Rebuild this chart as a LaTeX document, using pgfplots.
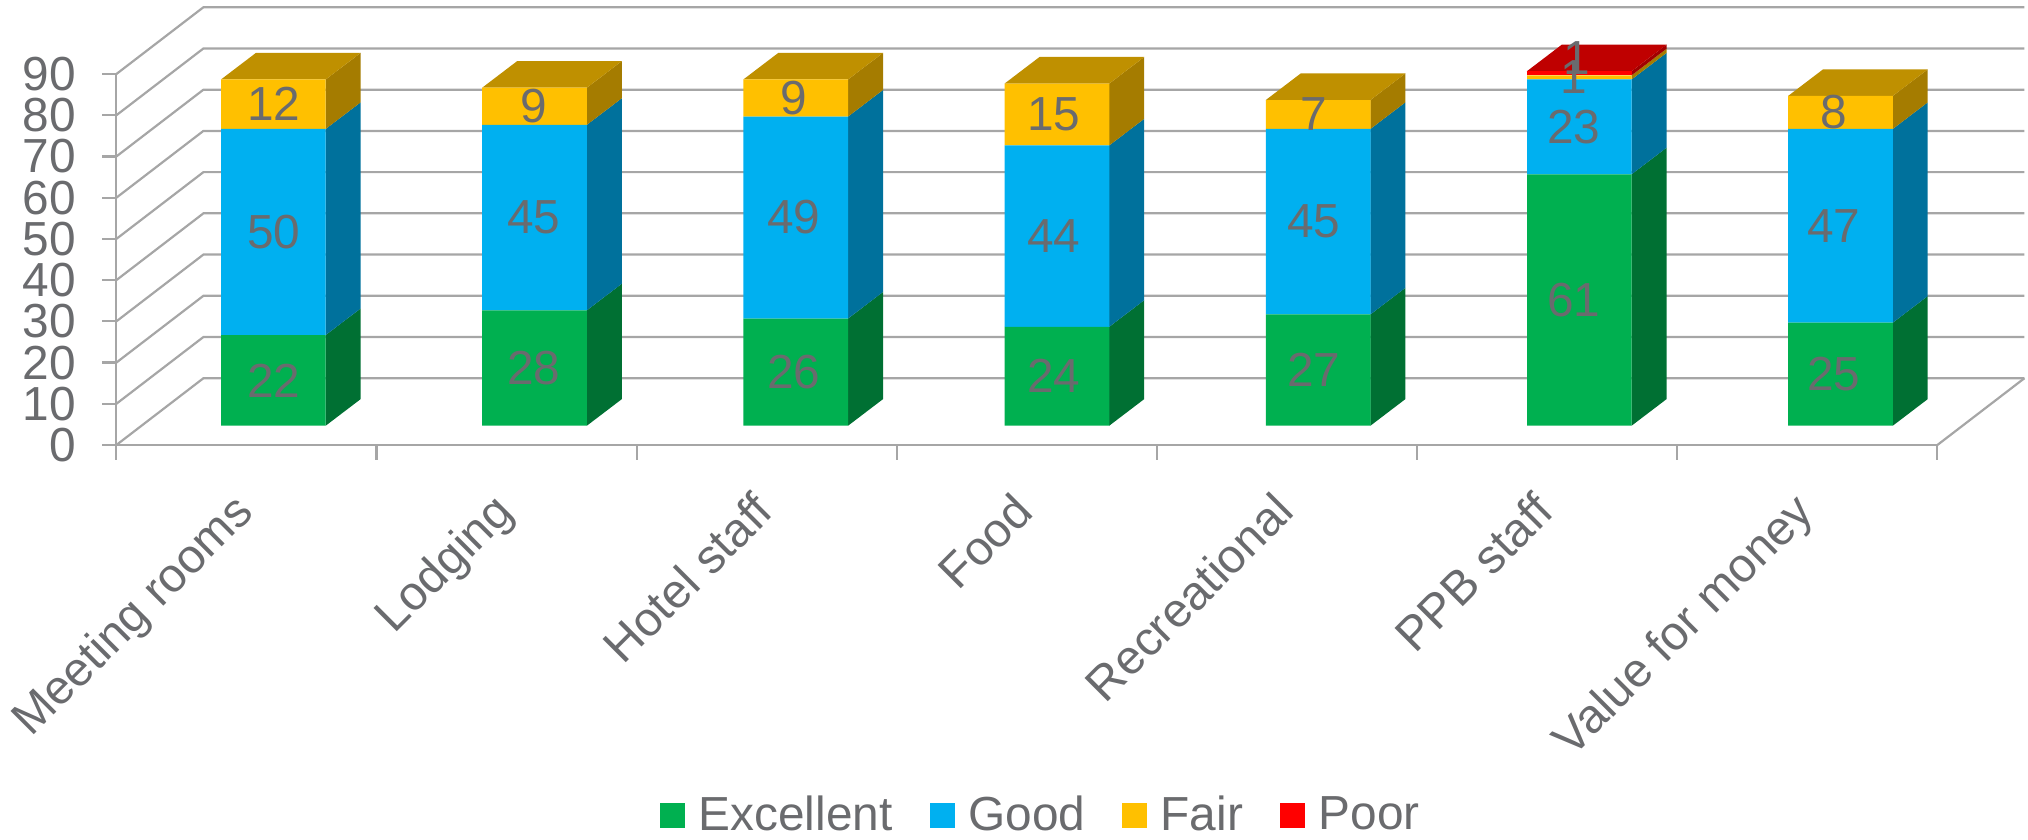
\documentclass[border=0pt]{standalone}
\usepackage{fontspec}
\setmainfont{Liberation Sans}
\usepackage{pgfplots}
\usepackage{pgfplotstable}
\pgfplotsset{compat=1.18}

\definecolor{txt}{HTML}{6A6B6E}
\definecolor{gridc}{HTML}{A6A6A6}
\definecolor{cE}{HTML}{00B050}
\definecolor{cG}{HTML}{00B0F0}
\definecolor{cF}{HTML}{FFC000}
\definecolor{cP}{HTML}{FF0000}
\definecolor{sE}{HTML}{007033}
\definecolor{sG}{HTML}{00719C}
\definecolor{sF}{HTML}{A57C00}
\definecolor{sP}{HTML}{A00000}
\definecolor{tF}{HTML}{BF9000}
\definecolor{tP}{HTML}{BF0000}

\pgfplotstableread{
x E G F P
0 22 50 12 0
1 28 45 9 0
2 26 49 9 0
3 24 44 15 0
4 27 45 7 0
5 61 23 1 1
6 25 47 8 0
}\ratings

% depth of the walls and of the bars, in axis units
\def\wallx{0.3346}
\def\wally{16.2}
\def\barx{0.1345}
\def\bary{6.46}
\def\baroff{0.402}
\def\barw{0.4024}
\def\barstep{1.004}
\def\barbase{4.67}

% side face of one stacked segment
\newcommand\seg[4]{%
  \pgfmathsetmacro\xa{#1*\barstep+\baroff+\barw}%
  \pgfmathsetmacro\xb{\xa+\barx}%
  \pgfmathsetmacro\ya{#2+\barbase}%
  \pgfmathsetmacro\yb{#3+\barbase}%
  \pgfmathsetmacro\yc{\yb+\bary}%
  \pgfmathsetmacro\yd{\ya+\bary}%
  \addplot[fill=#4,draw=none] coordinates {(\xa,\ya)(\xa,\yb)(\xb,\yc)(\xb,\yd)} --cycle;
}
% top face of a bar
\newcommand\topf[3]{%
  \pgfmathsetmacro\xa{#1*\barstep+\baroff}%
  \pgfmathsetmacro\xb{\xa+\barw}%
  \pgfmathsetmacro\xc{\xb+\barx}%
  \pgfmathsetmacro\xd{\xa+\barx}%
  \pgfmathsetmacro\ya{#2+\barbase}%
  \pgfmathsetmacro\yb{\ya+\bary}%
  \addplot[fill=#3,draw=none] coordinates {(\xa,\ya)(\xb,\ya)(\xc,\yb)(\xd,\yb)} --cycle;
}

\begin{document}
\begin{tikzpicture}
\path[use as bounding box] (0,0) rectangle (202.8mm,84mm);
\begin{axis}[
    at={(11.64mm,39.5mm)}, anchor=origin,
    scale only axis,
    width=182.1mm, height=37.1mm,
    xmin=0, xmax=7, ymin=0, ymax=90,
    clip=false,
    axis x line=bottom, axis y line=left,
    axis line style={-,draw=gridc,line width=0.22mm},
    xtick={0.5,1.5,2.5,3.5,4.5,5.5,6.5},
    xticklabels={Meeting rooms,Lodging,Hotel staff,Food,Recreational,PPB staff,Value for money},
    minor xtick={0,1,2,3,4,5,6,7},
    ytick={0,10,...,90},
    tick align=outside,
    major tick length=1.4mm,
    minor tick length=1.5mm,
    major x tick style={draw=none},
    minor x tick style={draw=gridc,line width=0.22mm},
    y tick style={draw=gridc,line width=0.22mm},
    tick label style={font=\fontsize{13.6}{15}\selectfont,text=txt},
    /pgf/number format/assume math mode=true,
    x tick label style={rotate=45,anchor=north east,inner sep=1pt,xshift=-2.89mm,yshift=-0.64mm},
    y tick label style={inner sep=1pt,xshift=-2.25mm},
]
\pgfplotsinvokeforeach{0,10,...,90}{
  \pgfmathsetmacro\gy{#1+\wally}
  \addplot[gridc,line width=0.22mm] coordinates {(0,#1)(\wallx,\gy)(7.3346,\gy)};
}
\addplot[gridc,line width=0.22mm] coordinates {(7,0)(7.3346,16.2)};
\pgfplotsinvokeforeach{0,...,6}{
  \pgfplotstablegetelem{#1}{E}\of\ratings \pgfmathsetmacro\vE{\pgfplotsretval}
  \pgfplotstablegetelem{#1}{G}\of\ratings \pgfmathsetmacro\vG{\vE+\pgfplotsretval}
  \pgfplotstablegetelem{#1}{F}\of\ratings \pgfmathsetmacro\vF{\vG+\pgfplotsretval}
  \pgfplotstablegetelem{#1}{P}\of\ratings \pgfmathsetmacro\vP{\vF+\pgfplotsretval}
  \seg{#1}{0}{\vE}{sE}
  \seg{#1}{\vE}{\vG}{sG}
  \seg{#1}{\vG}{\vF}{sF}
  \ifdim\vP pt>\vF pt
    \seg{#1}{\vF}{\vP}{sP}
    \topf{#1}{\vP}{tP}
  \else
    \topf{#1}{\vF}{tF}
  \fi
}
\end{axis}
\begin{axis}[
    at={(11.64mm,41.43mm)}, anchor=south west,
    scale only axis,
    width=182.84mm, height=37.1mm,
    xmin=-0.601, xmax=6.399, ymin=0, ymax=90,
    clip=false,
    hide axis,
    ybar stacked,
    bar width=10.47mm,
    visualization depends on=rawy\as\rawy,
    visualization depends on=x\as\rawx,
    nodes near coords={\ifdim\rawy pt>0pt \pgfmathprintnumber{\rawy}\fi},
    every node near coord/.append style={
      anchor=center,inner sep=0pt,text=txt,
      xshift=0.06mm-0.12mm*\rawx,
      font=\fontsize{13.6}{15}\selectfont},
    /pgf/number format/assume math mode=true,
    legend style={
      at={(0.507,-1.052)},anchor=center,draw=none,fill=none,
      legend columns=4,
      font=\fontsize{13.6}{15}\selectfont,text=txt,
      /tikz/every even column/.style={column sep=3mm},
    },
    legend image code/.code={\fill[#1,draw=none] (0mm,-1.25mm) rectangle (2.5mm,1.25mm); \path (3.15mm,0);},
]
\addplot[fill=cE,draw=none] table[x=x,y=E] {\ratings};
\addplot[fill=cG,draw=none] table[x=x,y=G] {\ratings};
\addplot[fill=cF,draw=none] table[x=x,y=F] {\ratings};
\addplot[fill=cP,draw=none,every node near coord/.append style={xshift=0.3mm,yshift=1.55mm}] table[x=x,y=P] {\ratings};
\legend{Excellent,Good,Fair,Poor}
\end{axis}
\end{tikzpicture}
\end{document}
